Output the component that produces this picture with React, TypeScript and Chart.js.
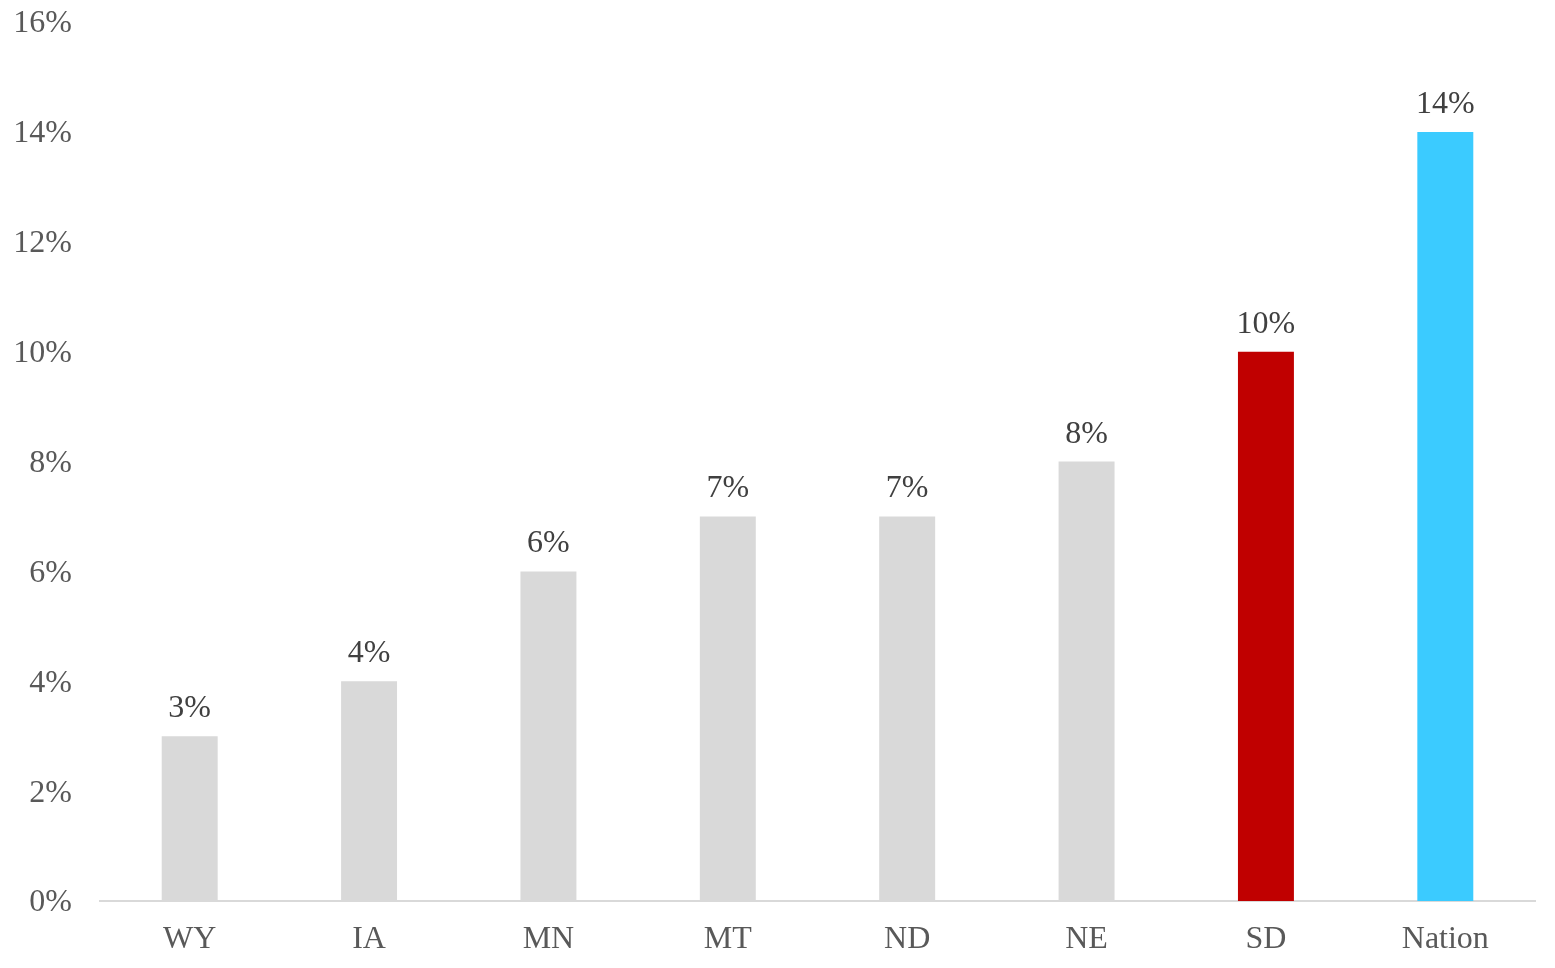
import React, { useEffect, useRef } from "react";
import { Chart, registerables } from "chart.js";

Chart.register(...registerables);

const categories = ["WY", "IA", "MN", "MT", "ND", "NE", "SD", "Nation"];
const values = [3, 4, 6, 7, 7, 8, 10, 14];
const barColors = ["#D9D9D9", "#D9D9D9", "#D9D9D9", "#D9D9D9", "#D9D9D9", "#D9D9D9", "#C00000", "#3BCBFF"];
const yTicks = [0, 2, 4, 6, 8, 10, 12, 14, 16];

const FONT = "'Liberation Serif', 'Times New Roman', serif";

const dataLabels = {
  id: "dataLabels",
  afterDatasetsDraw(chart: any) {
    const ctx = chart.ctx;
    const meta = chart.getDatasetMeta(0);
    ctx.save();
    ctx.font = `32px ${FONT}`;
    ctx.fillStyle = "#404040";
    ctx.textAlign = "center";
    ctx.textBaseline = "alphabetic";
    meta.data.forEach((bar: any, i: number) => {
      ctx.fillText(values[i] + "%", bar.x, bar.y - 19);
    });
    ctx.restore();
  },
};

export default function App() {
  const ref = useRef<HTMLCanvasElement>(null);
  useEffect(() => {
    document.body.style.margin = "0";
    const chart = new Chart(ref.current!, {
      type: "bar",
      data: {
        labels: categories,
        datasets: [
          {
            data: values,
            backgroundColor: barColors,
            categoryPercentage: 1,
            barPercentage: 0.312,
          },
        ],
      },
      options: {
        animation: false,
        responsive: false,
        maintainAspectRatio: false,
        layout: { padding: { top: 22, right: 20, left: 0, bottom: 0 } },
        plugins: { legend: { display: false }, tooltip: { enabled: false } },
        scales: {
          x: {
            grid: { display: false, drawTicks: false },
            border: { display: true, color: "#D9D9D9", width: 2 },
            ticks: {
              color: "#595959",
              font: { family: FONT, size: 32 },
              padding: 19,
            },
            afterFit: (s: any) => {
              s.height = 67;
              s.paddingLeft = 0;
              s.paddingRight = 0;
            },
          },
          y: {
            min: 0,
            max: 16,
            afterBuildTicks: (s: any) => {
              s.ticks = yTicks.map((v) => ({ value: v }));
            },
            grid: { display: false, drawTicks: false },
            border: { display: false },
            ticks: {
              color: "#595959",
              font: { family: FONT, size: 32 },
              padding: 28,
              labelOffset: 2,
              callback: (v: any) => v + "%",
            },
            afterFit: (s: any) => {
              s.width = 100;
              s.paddingTop = 0;
              s.paddingBottom = 0;
            },
          },
        },
      },
      plugins: [dataLabels],
    });
    return () => chart.destroy();
  }, []);
  return (
    <div style={{ width: 1555, height: 968 }}>
      <canvas ref={ref} width={1555} height={968} style={{ display: "block" }} />
    </div>
  );
}
